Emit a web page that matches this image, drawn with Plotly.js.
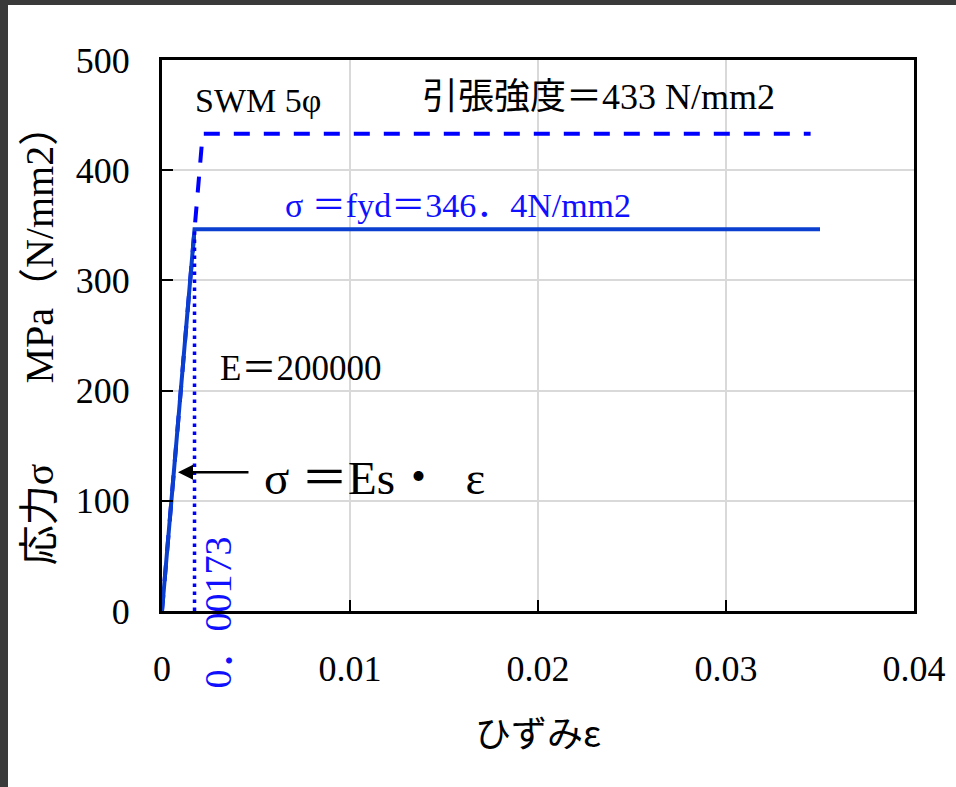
<!DOCTYPE html>
<html>
<head>
<meta charset="utf-8">
<script src="https://cdn.plot.ly/plotly-3.0.1.min.js"></script>
<style>
  html, body { margin: 0; padding: 0; background: #ffffff; }
  #wrap { position: relative; width: 956px; height: 787px; overflow: hidden; }
  #chart { position: absolute; left: 0; top: 0; width: 956px; height: 787px; }
  .band { position: absolute; background: #3a3a3a; z-index: 10; }
</style>
</head>
<body>
<div id="wrap">
  <div id="chart"></div>
  <div class="band" style="left:0;top:0;width:956px;height:5px;"></div>
  <div class="band" style="left:0;top:0;width:8px;height:787px;"></div>
</div>
<script>
// ---- data ----
const strainDesign  = [0, 0.00173, 0.035];
const stressDesign  = [0, 346.4, 346.4];
const strainTensile = [0, 0.002165, 0.0345];
const stressTensile = [0, 433, 433];
const strainYieldMark = [0.00173, 0.00173];
const stressYieldMark = [0, 346.4];
const xTickVals  = [0, 0.01, 0.02, 0.03, 0.04];
const xTickText  = ['0', '0.01', '0.02', '0.03', '0.04'];
const yTickVals  = [0, 100, 200, 300, 400, 500];
const yTickText  = ['0', '100', '200', '300', '400', '500'];
const tensileStrength = 433;
const fyd = 346.4;
const youngModulus = 200000;
const yieldStrain = '0．00173';

const SERIF = 'Liberation Serif, Noto Sans CJK JP, serif';
const BLUE = '#1010ff';
const SOLID = '#0a3fcf';

const traces = [
  { x: strainTensile, y: stressTensile, mode: 'lines', type: 'scatter',
    line: { color: '#0000ff', width: 4, dash: '16px,14px' }, hoverinfo: 'skip' },
  { x: strainDesign, y: stressDesign, mode: 'lines', type: 'scatter',
    line: { color: SOLID, width: 4 }, hoverinfo: 'skip' },
  { x: strainYieldMark, y: stressYieldMark, mode: 'lines', type: 'scatter',
    line: { color: '#0000ff', width: 3.5, dash: '3.5px,4.5px' }, hoverinfo: 'skip' }
];

const layout = {
  width: 956, height: 787,
  margin: { l: 162, r: 42, t: 60, b: 176 },
  paper_bgcolor: '#ffffff', plot_bgcolor: '#ffffff',
  showlegend: false,
  font: { family: SERIF, color: '#000000', size: 34 },
  xaxis: {
    range: [0, 0.04], tickvals: xTickVals, ticktext: xTickText,
    showgrid: true, gridcolor: '#d9d9d9', gridwidth: 2,
    showline: true, linecolor: '#000000', linewidth: 3, mirror: true,
    ticks: 'inside', ticklen: 11, tickwidth: 2, tickcolor: '#000000',
    ticklabelstandoff: 24, zeroline: false,
    tickfont: { family: SERIF, size: 36, color: '#000000' },
    title: { text: 'ひずみε', standoff: 34, font: { family: 'Noto Sans CJK JP', size: 36, color: '#000000' } }
  },
  yaxis: {
    range: [0, 500], tickvals: yTickVals, ticktext: yTickText,
    showgrid: true, gridcolor: '#d9d9d9', gridwidth: 2,
    showline: true, linecolor: '#000000', linewidth: 3, mirror: true,
    ticks: 'inside', ticklen: 11, tickwidth: 2, tickcolor: '#000000',
    ticklabelstandoff: 22, zeroline: false,
    tickfont: { family: SERIF, size: 36, color: '#000000' },
    title: { text: '応力σ　　MPa（N/mm2）', standoff: 10, font: { family: SERIF, size: 40, color: '#000000' } }
  },
  annotations: [
    { x: 0.00165, y: 463.7, xref: 'x', yref: 'y', text: 'SWM 5φ', showarrow: false,
      xanchor: 'left', yanchor: 'middle', font: { family: SERIF, size: 34, color: '#000000' } },
    { x: 0.01372, y: 466.4, xref: 'x', yref: 'y', text: '引張強度＝' + tensileStrength + ' N/mm2', showarrow: false,
      xanchor: 'left', yanchor: 'middle', font: { family: SERIF, size: 36, color: '#000000' } },
    { x: 0.00644, y: 368.4, xref: 'x', yref: 'y', text: 'σ ＝fyd＝' + String(fyd).replace('.', '．') + 'N/mm2', showarrow: false,
      xanchor: 'left', yanchor: 'middle', font: { family: SERIF, size: 34, color: BLUE } },
    { x: 0.00298, y: 220.5, xref: 'x', yref: 'y', text: 'E＝' + youngModulus, showarrow: false,
      xanchor: 'left', yanchor: 'middle', font: { family: SERIF, size: 35, color: '#000000' } },
    { x: 0.00532, y: 120.7, xref: 'x', yref: 'y', text: 'σ ＝Es・  ε', showarrow: false,
      xanchor: 'left', yanchor: 'middle', font: { family: SERIF, size: 47, color: '#000000' } },
    { x: 0.00085, y: 126, xref: 'x', yref: 'y', text: '', showarrow: true,
      ax: 72, ay: 0, arrowhead: 2, arrowsize: 1.2, arrowwidth: 2.5, arrowcolor: '#000000' },
    { x: 0.00300, y: -0.002, xref: 'x', yref: 'paper', text: yieldStrain, showarrow: false, textangle: -90,
      xanchor: 'center', yanchor: 'middle', font: { family: SERIF, size: 38, color: BLUE } }
  ]
};

Plotly.newPlot('chart', traces, layout, { displayModeBar: false, staticPlot: true });
</script>
</body>
</html>
